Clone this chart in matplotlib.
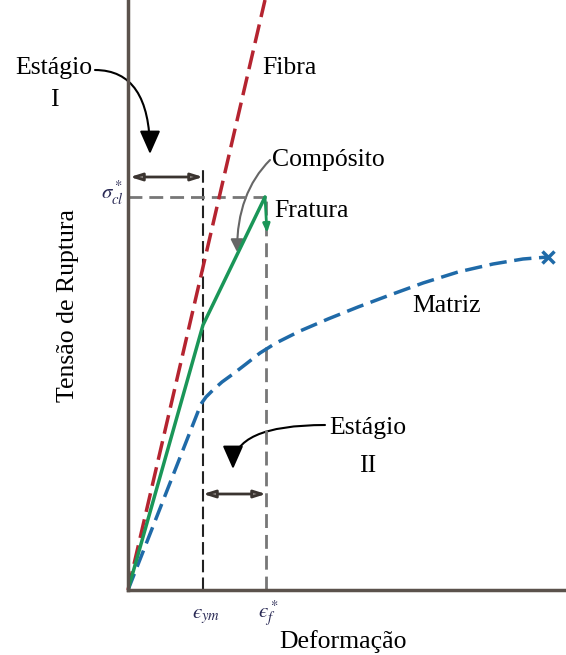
import matplotlib
matplotlib.use("Agg")
import matplotlib.pyplot as plt
from matplotlib.patches import FancyArrowPatch

plt.rcParams['font.family'] = ['Liberation Serif', 'DejaVu Serif']
plt.rcParams['mathtext.fontset'] = 'stix'

# schematic values (strain, stress) in arbitrary units
eps_ym = 75
eps_f = 138
sigma_cl = 393

fibra_x = [0, 137]
fibra_y = [0, 590]

comp_x = [0, eps_ym, 137]
comp_y = [0, 265, sigma_cl]

matriz_x = [0, 73, 78, 85, 94, 105, 118, 132, 148, 172, 200, 230, 262, 295, 330, 365, 395, 420]
matriz_y = [0, 186, 193, 200, 208, 216, 226, 237, 247, 259, 271, 283, 295, 307, 318, 326, 331, 333]

fig = plt.figure(figsize=(5.66, 6.55), dpi=100)
ax = fig.add_axes([128 / 566, 65 / 655, 438 / 566, 590 / 655])
ax.set_xlim(0, 438)
ax.set_ylim(0, 590)
for s in ['top', 'right']:
    ax.spines[s].set_visible(False)
for s in ['left', 'bottom']:
    ax.spines[s].set_color('#5b524c')
    ax.spines[s].set_linewidth(2.5)
ax.set_xticks([])
ax.set_yticks([])

# guide lines
ax.plot([eps_ym, eps_ym], [0, 425], color='#222222', lw=1.5, ls=(0, (6, 2.5)))
ax.plot([eps_f, eps_f], [0, sigma_cl], color='#777777', lw=2, ls=(0, (5, 2.5)))
ax.plot([0, eps_f], [sigma_cl, sigma_cl], color='#777777', lw=2, ls=(0, (5, 2.5)))

# curves
ax.plot(fibra_x, fibra_y, color='#b52430', lw=2.5, ls=(0, (5.5, 2.2)), clip_on=False)
ax.plot(matriz_x, matriz_y, color='#1f6aa8', lw=2.5, ls=(0, (5, 2.2)))
ax.plot(matriz_x[-1], matriz_y[-1], marker='x', color='#1f6aa8', ms=8, mew=2.5)
ax.plot(comp_x, comp_y, color='#1a9658', lw=2.5, solid_capstyle='round')
ax.annotate('', xy=(139, 357), xytext=(137, sigma_cl),
            arrowprops=dict(arrowstyle='-|>,head_width=0.2,head_length=0.5',
                            color='#1a9658', lw=2, shrinkA=0, shrinkB=0))

# stage double arrows
for x0, x1, yy in [(2, eps_ym, 413), (eps_ym, eps_f, 96)]:
    ax.annotate('', xy=(x1, yy), xytext=(x0, yy),
                arrowprops=dict(arrowstyle='<|-|>,head_width=0.22,head_length=0.7',
                                color='#8a8480', ec='#3a3430', lw=2,
                                shrinkA=0, shrinkB=0))

# curved pointers
pointers = [((-33, 520), (22, 436), 'angle3,angleA=0,angleB=90', 'black'),
            ((142, 430), (109, 338), 'angle3,angleA=45,angleB=90', '#666666'),
            ((197, 165), (105, 121), 'angle3,angleA=0,angleB=90', 'black')]
for (p0, p1, cs, c) in pointers:
    big = c == 'black'
    style = '-|>,head_width=0.42,head_length=0.95' if big else '-|>,head_width=0.25,head_length=0.5'
    arr = FancyArrowPatch(p0, p1, connectionstyle=cs, arrowstyle=style,
                          mutation_scale=15, color=c, lw=1.5,
                          shrinkA=0, shrinkB=0, clip_on=False)
    ax.add_patch(arr)

fs = 18.5
ax.text(-74, 522, 'Estágio', fontsize=fs, ha='center', va='center')
ax.text(-74, 490, 'I', fontsize=fs, ha='center', va='center')
ax.text(134, 522, 'Fibra', fontsize=fs, ha='left', va='center')
ax.text(144, 430, 'Compósito', fontsize=fs, ha='left', va='center')
ax.text(146, 379, 'Fratura', fontsize=fs, ha='left', va='center')
ax.text(284, 284, 'Matriz', fontsize=fs, ha='left', va='center')
ax.text(240, 162, 'Estágio', fontsize=fs, ha='center', va='center')
ax.text(240, 124, 'II', fontsize=fs, ha='center', va='center')
ax.text(-60, 285, 'Tensão de Ruptura', fontsize=fs, rotation=90,
        ha='center', va='center')
ax.text(215, -52, 'Deformação', fontsize=fs, ha='center', va='center')

mc = '#2a2a55'
ax.text(eps_ym + 3, -26, '$\u03f5_{ym}$', fontsize=15, color=mc,
        ha='center', va='center')
ax.text(eps_f + 2, -24, '$\u03f5_f^*$', fontsize=15, color=mc,
        ha='center', va='center')
ax.text(-16, 397, r'$\sigma_{cl}^*$', fontsize=15, color=mc,
        ha='center', va='center')

fig.savefig('out.png', dpi=100)
